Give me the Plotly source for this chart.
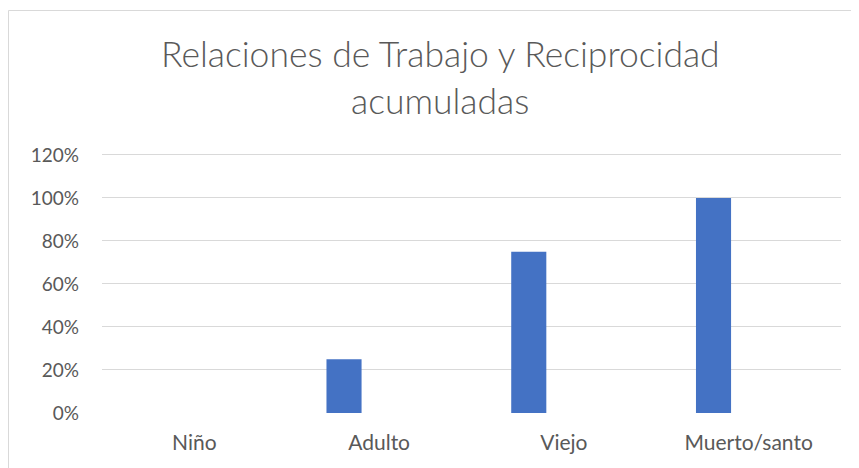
import plotly.graph_objects as go

categorias = ["Niño", "Adulto", "Viejo", "Muerto/santo"]
valores = [0.0, 0.25, 0.75, 1.0]
titulo_1 = "Relaciones de Trabajo y Reciprocidad"
titulo_2 = "acumuladas"

gris = "#595959"
fuente = "Lato"

# geometria del area de trazado (px dentro de la figura)
izq, ancho = 94, 739
abajo, alto = 405, 260

def px_x(p):
    return (p - izq) / ancho

def px_y(p):
    return (abajo - p) / alto

fig = go.Figure()
fig.add_trace(go.Bar(x=categorias, y=valores, marker_color="#4472C4",
                     marker_line_width=0, width=0.19, offset=-0.285))

fig.update_layout(
    width=859, height=468,
    margin=dict(l=izq, r=859 - izq - ancho, t=abajo - alto, b=468 - abajo),
    plot_bgcolor="white", paper_bgcolor="white",
    font=dict(family=fuente, color=gris, size=18),
    showlegend=False,
)
fig.update_yaxes(range=[0, 1.209], tickvals=[0, 0.2, 0.4, 0.6, 0.8, 1.0, 1.2],
                 tickformat=".0%",
                 gridcolor="#d9d9d9", gridwidth=1, zeroline=False,
                 showline=False, ticklabelstandoff=22,
                 tickfont=dict(size=19, color=gris))
fig.update_xaxes(range=[-0.5, 3.5], showgrid=False, showline=False,
                 ticks="", ticklabelstandoff=15,
                 tickfont=dict(size=21, color=gris))

# titulo en dos lineas
fig.add_annotation(text=titulo_1, xref="paper", yref="paper",
                   x=px_x(432), y=px_y(45),
                   showarrow=False,
                   font=dict(size=35.5, color=gris, family=fuente, weight=300),
                   xanchor="center", yanchor="middle")
fig.add_annotation(text=titulo_2, xref="paper", yref="paper",
                   x=px_x(432), y=px_y(92),
                   showarrow=False,
                   font=dict(size=35.5, color=gris, family=fuente, weight=300),
                   xanchor="center", yanchor="middle")

# borde del grafico
fig.add_shape(type="rect", xref="paper", yref="paper",
              x0=px_x(0.5), x1=1.2, y0=-0.5, y1=px_y(2.5),
              line=dict(color="#d9d9d9", width=1), fillcolor="rgba(0,0,0,0)")

fig.write_html("out.html")
